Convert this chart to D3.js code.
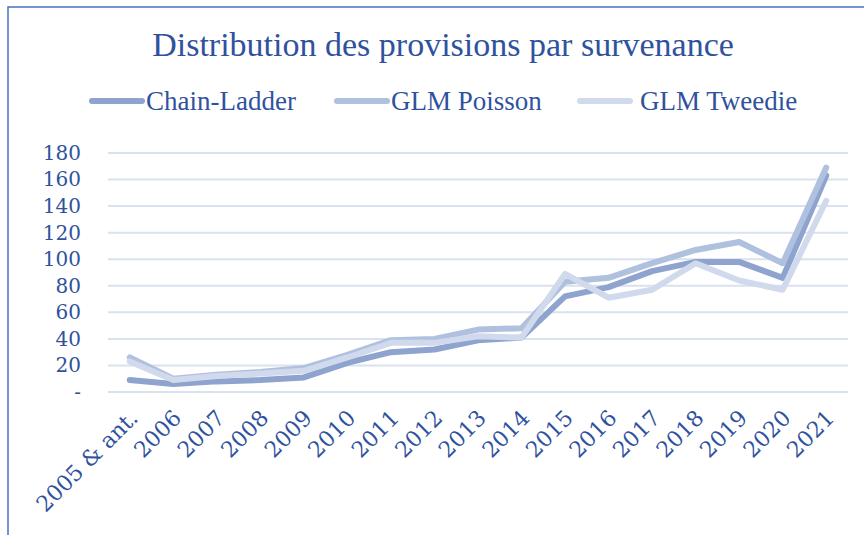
<!DOCTYPE html>
<html>
<head>
<meta charset="utf-8">
<script src="https://cdn.jsdelivr.net/npm/d3@7"></script>
<style>
  body { margin: 0; background: #fff; }
  svg { display: block; }
</style>
</head>
<body>
<div class="canvas"></div>
<script>
// data
const years = ["2005 & ant.", "2006", "2007", "2008", "2009", "2010", "2011", "2012", "2013",
  "2014", "2015", "2016", "2017", "2018", "2019", "2020", "2021"];
const chainLadder = [9, 6, 8, 9, 11, 22, 30, 32, 39, 41, 72, 79, 91, 98, 98, 86, 163];
const glmPoisson = [26, 10, 13, 15, 18, 28, 39, 40, 47, 48, 83, 86, 97, 107, 113, 97, 169];
const glmTweedie = [23, 9, 12, 14, 16, 26, 37, 37, 42, 41, 89, 71, 77, 97, 84, 77, 144];
const seriesNames = ["Chain-Ladder", "GLM Poisson", "GLM Tweedie"];
const yTicks = [0, 20, 40, 60, 80, 100, 120, 140, 160, 180];

const colors = ["#8EA4CF", "#B0C0DF", "#D0DAEC"];
const textColor = "#2F529E";

// dimensions
const w = 864;
const h = 535;
const margin = { top: 153, right: 16, bottom: 143, left: 108 };
const graphWidth = w - margin.left - margin.right;
const graphHeight = h - margin.top - margin.bottom;

const svg = d3.select(".canvas").append("svg").attr("width", w).attr("height", h);

// frame (only top and left edges show)
svg.append("path")
  .attr("d", `M8,${h} L8,7 L${w},7`)
  .attr("fill", "none")
  .attr("stroke", "#4472C4")
  .attr("stroke-width", 1.5);

// title
svg.append("text")
  .attr("x", 443)
  .attr("y", 56)
  .attr("text-anchor", "middle")
  .style("font-family", "'Liberation Serif', serif")
  .style("font-size", "34px")
  .attr("fill", textColor)
  .text("Distribution des provisions par survenance");

// legend
const legendPos = [90, 335, 578];
const legend = svg.append("g");
seriesNames.forEach((name, i) => {
  const g = legend.append("g").attr("transform", `translate(${legendPos[i]}, 101)`);
  g.append("line")
    .attr("x1", 2).attr("x2", 52)
    .attr("stroke", colors[i])
    .attr("stroke-width", 6)
    .attr("stroke-linecap", "round");
  g.append("text")
    .attr("x", i === 2 ? 62 : 56)
    .attr("dy", "0.35em")
    .style("font-family", "'Liberation Serif', serif")
    .style("font-size", "27px")
    .attr("fill", textColor)
    .text(name);
});

const graph = svg.append("g")
  .attr("transform", `translate(${margin.left}, ${margin.top})`);

// scales
const xScale = d3.scalePoint().domain(years).range([0, graphWidth]).padding(0.5);
const yScale = d3.scaleLinear().domain([0, 180]).range([graphHeight, 0]);

// gridlines
graph.append("g")
  .selectAll("line")
  .data(yTicks)
  .enter()
  .append("line")
  .attr("x1", 0)
  .attr("x2", graphWidth)
  .attr("y1", d => yScale(d))
  .attr("y2", d => yScale(d))
  .attr("stroke", "#DAE2F0")
  .attr("stroke-width", 2);

// y-axis
const yAxis = d3.axisLeft(yScale)
  .tickValues(yTicks)
  .tickSize(0)
  .tickPadding(27)
  .tickFormat(d => d === 0 ? "-" : d);
const yG = graph.append("g").call(yAxis);
yG.select(".domain").remove();
yG.selectAll("text")
  .style("font-family", "'DejaVu Serif', serif")
  .style("font-size", "20px")
  .attr("fill", textColor);

// x-axis labels, rotated
graph.append("g")
  .selectAll("text")
  .data(years)
  .enter()
  .append("text")
  .attr("transform", d => `translate(${xScale(d) + 4}, ${graphHeight + 22}) rotate(-45)`)
  .attr("text-anchor", "end")
  .attr("dy", "0.35em")
  .style("font-family", "'DejaVu Serif', serif")
  .style("font-size", "22px")
  .attr("fill", textColor)
  .text(d => d);

// lines
const line = d3.line()
  .x((d, i) => xScale(years[i]))
  .y(d => yScale(d));

[chainLadder, glmPoisson, glmTweedie].forEach((values, i) => {
  graph.append("path")
    .datum(values)
    .attr("d", line)
    .attr("fill", "none")
    .attr("stroke", colors[i])
    .attr("stroke-width", 6)
    .attr("stroke-linecap", "round")
    .attr("stroke-linejoin", "round");
});
</script>
</body>
</html>
